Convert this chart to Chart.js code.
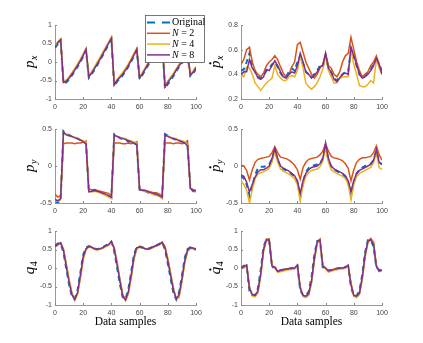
<!DOCTYPE html>
<html>
<head>
<meta charset="utf-8">
<script src="https://cdn.jsdelivr.net/npm/chart.js"></script>
<style>
  body { margin: 0; background: #fff; }
  #fig { position: relative; width: 423px; height: 343px; overflow: hidden; background: #fff; }
  #fig canvas { position: absolute; }
</style>
</head>
<body>
<div id="fig"></div>
<script>
// data samples (every second sample)
const samples = [0,2,4,6,8,10,12,14,16,18,20,22,24,26,28,30,32,34,36,38,40,42,44,46,48,50,
  52,54,56,58,60,62,64,66,68,70,72,74,76,78,80,82,84,86,88,90,92,94,96,98,100];

const seriesNames = ['Original', 'N = 2', 'N = 4', 'N = 8'];
const seriesColors = ['#0072BD', '#D95319', '#EDB120', '#7E2F8E'];

// p_x
const pxOrig = [0.38,0.48,0.58,-0.58,-0.55,-0.47,-0.36,-0.25,-0.13,0.00,0.15,0.32,-0.43,-0.33,-0.21,-0.08,0.05,0.19,0.33,0.47,0.62,-0.65,-0.53,-0.45,-0.36,-0.25,-0.13,0.01,0.16,0.31,-0.46,-0.35,-0.22,-0.09,0.04,0.17,0.29,0.42,0.55,-0.72,-0.60,-0.49,-0.38,-0.25,-0.13,-0.03,0.07,0.19,-0.38,-0.31,-0.18];
const pxN2 = [0.41,0.53,0.61,-0.54,-0.50,-0.42,-0.31,-0.20,-0.08,0.05,0.20,0.35,-0.39,-0.28,-0.16,-0.03,0.10,0.24,0.38,0.52,0.65,-0.61,-0.49,-0.40,-0.31,-0.20,-0.08,0.06,0.21,0.35,-0.42,-0.30,-0.17,-0.04,0.09,0.22,0.34,0.47,0.60,-0.66,-0.54,-0.43,-0.33,-0.20,-0.08,0.02,0.12,0.24,-0.35,-0.26,-0.14];
const pxN4 = [0.42,0.55,0.63,-0.52,-0.49,-0.40,-0.29,-0.17,-0.05,0.08,0.22,0.37,-0.37,-0.26,-0.13,0.00,0.13,0.27,0.40,0.54,0.68,-0.60,-0.47,-0.38,-0.28,-0.17,-0.05,0.09,0.24,0.38,-0.40,-0.28,-0.15,-0.02,0.11,0.24,0.36,0.49,0.62,-0.65,-0.52,-0.41,-0.30,-0.18,-0.06,0.05,0.15,0.27,-0.33,-0.24,-0.12];
const pxN8 = [0.40,0.52,0.60,-0.55,-0.52,-0.44,-0.33,-0.22,-0.10,0.03,0.18,0.34,-0.40,-0.30,-0.18,-0.05,0.08,0.22,0.36,0.50,0.64,-0.62,-0.50,-0.42,-0.33,-0.22,-0.10,0.04,0.19,0.34,-0.43,-0.32,-0.19,-0.06,0.07,0.20,0.32,0.45,0.58,-0.67,-0.55,-0.45,-0.35,-0.22,-0.10,0.00,0.10,0.22,-0.36,-0.28,-0.15];

// p_x dot
const vxOrig = [0.43,0.44,0.50,0.57,0.47,0.42,0.38,0.37,0.39,0.43,0.45,0.48,0.50,0.46,0.41,0.38,0.38,0.42,0.45,0.43,0.50,0.55,0.49,0.42,0.40,0.38,0.40,0.43,0.47,0.46,0.55,0.45,0.41,0.37,0.35,0.38,0.40,0.42,0.42,0.60,0.54,0.47,0.40,0.38,0.39,0.41,0.44,0.48,0.51,0.49,0.42];
const vxN2 = [0.48,0.52,0.60,0.62,0.50,0.43,0.40,0.38,0.41,0.47,0.50,0.52,0.55,0.52,0.46,0.41,0.38,0.40,0.46,0.50,0.64,0.66,0.58,0.50,0.45,0.40,0.37,0.40,0.45,0.48,0.57,0.47,0.45,0.40,0.38,0.42,0.50,0.55,0.57,0.70,0.60,0.50,0.43,0.38,0.40,0.42,0.47,0.50,0.55,0.48,0.40];
const vxN4 = [0.40,0.38,0.46,0.45,0.40,0.33,0.30,0.27,0.30,0.33,0.35,0.37,0.47,0.40,0.37,0.35,0.35,0.38,0.39,0.38,0.43,0.55,0.45,0.33,0.30,0.28,0.30,0.33,0.38,0.44,0.55,0.43,0.38,0.33,0.33,0.37,0.38,0.38,0.38,0.60,0.48,0.40,0.31,0.30,0.30,0.32,0.35,0.33,0.52,0.45,0.40];
const vxN8 = [0.40,0.42,0.42,0.52,0.45,0.42,0.37,0.36,0.38,0.44,0.43,0.47,0.51,0.47,0.42,0.38,0.37,0.40,0.42,0.41,0.47,0.57,0.50,0.42,0.40,0.37,0.39,0.42,0.46,0.47,0.57,0.45,0.42,0.36,0.34,0.37,0.40,0.41,0.40,0.62,0.55,0.48,0.40,0.37,0.38,0.40,0.43,0.47,0.53,0.48,0.40];

// p_y
const pyOrig = [-0.48,-0.50,-0.45,0.47,0.43,0.42,0.40,0.39,0.37,0.35,0.33,0.31,-0.34,-0.33,-0.32,-0.33,-0.36,-0.37,-0.39,-0.41,-0.43,0.43,0.41,0.38,0.36,0.36,0.33,0.32,0.30,0.30,-0.32,-0.34,-0.34,-0.36,-0.37,-0.38,-0.39,-0.41,-0.43,0.43,0.41,0.39,0.37,0.35,0.34,0.33,0.31,0.28,-0.30,-0.34,-0.34];
const pyN2 = [-0.38,-0.42,-0.40,0.30,0.31,0.31,0.31,0.30,0.31,0.31,0.32,0.34,-0.31,-0.32,-0.33,-0.33,-0.34,-0.35,-0.36,-0.37,-0.40,0.31,0.31,0.31,0.30,0.30,0.31,0.30,0.31,0.33,-0.31,-0.32,-0.33,-0.34,-0.35,-0.36,-0.36,-0.38,-0.40,0.31,0.31,0.31,0.30,0.31,0.31,0.30,0.31,0.34,-0.30,-0.32,-0.33];
const pyN4 = [-0.46,-0.48,-0.46,0.45,0.43,0.41,0.40,0.39,0.38,0.36,0.34,0.32,-0.34,-0.35,-0.34,-0.35,-0.36,-0.38,-0.40,-0.42,-0.44,0.41,0.40,0.39,0.38,0.37,0.35,0.34,0.32,0.31,-0.31,-0.33,-0.34,-0.36,-0.37,-0.39,-0.40,-0.41,-0.44,0.41,0.41,0.39,0.38,0.37,0.35,0.34,0.33,0.29,-0.31,-0.33,-0.34];
const pyN8 = [-0.45,-0.47,-0.44,0.46,0.42,0.41,0.40,0.38,0.37,0.35,0.33,0.30,-0.35,-0.34,-0.33,-0.34,-0.35,-0.37,-0.38,-0.40,-0.42,0.42,0.40,0.38,0.37,0.36,0.34,0.33,0.31,0.29,-0.32,-0.33,-0.33,-0.35,-0.36,-0.37,-0.38,-0.40,-0.42,0.42,0.40,0.38,0.37,0.36,0.34,0.33,0.31,0.27,-0.30,-0.33,-0.33];

// p_y dot
const vyOrig = [-0.13,-0.17,-0.25,-0.40,-0.27,-0.12,-0.03,-0.01,-0.01,0.00,0.02,0.10,0.22,0.08,-0.01,-0.04,-0.06,-0.08,-0.11,-0.14,-0.22,-0.42,-0.22,-0.08,-0.03,0.00,0.01,0.02,0.03,0.10,0.28,0.08,-0.01,-0.05,-0.07,-0.09,-0.11,-0.14,-0.22,-0.40,-0.22,-0.10,-0.05,-0.02,0.00,0.01,0.03,0.08,0.20,0.05,0.02];
const vyN2 = [0.01,0.00,-0.06,-0.19,-0.05,0.05,0.09,0.10,0.11,0.12,0.13,0.18,0.26,0.18,0.12,0.11,0.10,0.08,0.05,0.01,-0.05,-0.18,-0.02,0.05,0.09,0.10,0.11,0.12,0.15,0.20,0.30,0.20,0.13,0.11,0.10,0.09,0.07,0.03,-0.03,-0.20,-0.05,0.05,0.09,0.11,0.11,0.12,0.13,0.18,0.27,0.15,0.08];
const vyN4 = [-0.20,-0.25,-0.33,-0.50,-0.32,-0.17,-0.11,-0.09,-0.08,-0.06,-0.03,0.05,0.20,0.05,-0.04,-0.07,-0.09,-0.11,-0.14,-0.17,-0.25,-0.47,-0.26,-0.14,-0.09,-0.06,-0.05,-0.04,-0.01,0.06,0.25,0.05,-0.05,-0.08,-0.10,-0.12,-0.14,-0.17,-0.24,-0.46,-0.25,-0.14,-0.10,-0.08,-0.06,-0.04,-0.02,0.04,0.18,-0.02,-0.05];
const vyN8 = [-0.12,-0.14,-0.22,-0.35,-0.25,-0.15,-0.08,-0.05,-0.05,-0.03,0.00,0.10,0.24,0.10,0.00,-0.03,-0.05,-0.07,-0.10,-0.13,-0.20,-0.37,-0.20,-0.10,-0.05,-0.02,-0.01,0.00,0.03,0.10,0.31,0.10,0.00,-0.04,-0.06,-0.08,-0.10,-0.13,-0.20,-0.34,-0.20,-0.10,-0.06,-0.04,-0.02,0.00,0.02,0.08,0.22,0.05,0.03];

// q_4
const qOrig = [0.60,0.66,0.66,0.42,-0.02,-0.45,-0.77,-0.83,-0.60,-0.12,0.36,0.55,0.59,0.57,0.53,0.51,0.53,0.56,0.61,0.64,0.71,0.46,0.02,-0.43,-0.79,-0.84,-0.58,-0.12,0.36,0.57,0.58,0.56,0.53,0.52,0.55,0.59,0.62,0.65,0.70,0.50,0.12,-0.28,-0.68,-0.85,-0.66,-0.22,0.27,0.51,0.56,0.55,0.51];
const qN2 = [0.57,0.63,0.68,0.50,0.09,-0.34,-0.69,-0.86,-0.69,-0.24,0.26,0.51,0.58,0.56,0.51,0.50,0.52,0.54,0.59,0.62,0.71,0.54,0.14,-0.31,-0.72,-0.87,-0.68,-0.24,0.26,0.53,0.57,0.55,0.52,0.51,0.53,0.57,0.60,0.63,0.69,0.57,0.23,-0.16,-0.57,-0.83,-0.76,-0.34,0.16,0.46,0.54,0.53,0.49];
const qN4 = [0.56,0.62,0.67,0.52,0.12,-0.30,-0.66,-0.87,-0.72,-0.28,0.22,0.49,0.57,0.55,0.50,0.49,0.51,0.53,0.58,0.61,0.70,0.56,0.18,-0.28,-0.70,-0.88,-0.72,-0.28,0.22,0.51,0.56,0.54,0.51,0.50,0.52,0.56,0.59,0.62,0.68,0.60,0.27,-0.12,-0.53,-0.82,-0.80,-0.38,0.12,0.44,0.53,0.52,0.48];
const qN8 = [0.58,0.64,0.68,0.48,0.05,-0.38,-0.72,-0.85,-0.66,-0.20,0.30,0.52,0.58,0.56,0.52,0.50,0.52,0.55,0.60,0.63,0.72,0.52,0.10,-0.35,-0.75,-0.86,-0.65,-0.20,0.30,0.55,0.57,0.55,0.52,0.51,0.54,0.58,0.61,0.64,0.70,0.55,0.20,-0.20,-0.60,-0.84,-0.72,-0.30,0.20,0.48,0.55,0.54,0.50];

// q_4 dot
const wOrig = [0.00,0.06,0.06,-0.62,-0.73,-0.73,-0.55,-0.05,0.58,0.77,0.72,0.02,0.02,-0.08,-0.06,-0.04,-0.03,-0.02,0.00,0.01,0.06,-0.60,-0.74,-0.75,-0.64,-0.25,0.35,0.73,0.75,0.02,0.01,-0.07,-0.05,-0.03,-0.01,0.00,0.01,0.03,0.05,-0.52,-0.75,-0.75,-0.62,-0.18,0.42,0.75,0.76,0.58,0.02,-0.06,-0.04];
const wN2 = [0.02,0.04,0.07,-0.52,-0.73,-0.75,-0.64,-0.18,0.48,0.78,0.79,0.06,0.02,-0.09,-0.07,-0.05,-0.03,-0.02,-0.01,0.00,0.07,-0.52,-0.75,-0.77,-0.72,-0.38,0.22,0.69,0.78,0.07,0.00,-0.09,-0.07,-0.04,-0.02,-0.01,0.00,0.02,0.07,-0.42,-0.75,-0.77,-0.70,-0.28,0.32,0.71,0.80,0.70,0.06,-0.09,-0.06];
const wN4 = [-0.02,0.00,0.05,-0.50,-0.76,-0.78,-0.68,-0.22,0.45,0.74,0.74,0.08,0.00,-0.12,-0.10,-0.08,-0.06,-0.05,-0.04,-0.03,0.05,-0.50,-0.77,-0.80,-0.74,-0.42,0.18,0.66,0.76,0.10,-0.03,-0.11,-0.09,-0.06,-0.05,-0.03,-0.03,-0.01,0.05,-0.40,-0.77,-0.80,-0.72,-0.32,0.28,0.68,0.76,0.70,0.08,-0.10,-0.08];
const wN8 = [0.00,0.03,0.08,-0.55,-0.72,-0.74,-0.62,-0.15,0.50,0.76,0.75,0.05,0.02,-0.09,-0.07,-0.05,-0.03,-0.02,-0.01,0.00,0.08,-0.55,-0.74,-0.76,-0.70,-0.35,0.25,0.70,0.76,0.05,0.00,-0.08,-0.06,-0.03,-0.02,0.00,0.00,0.02,0.08,-0.45,-0.74,-0.76,-0.68,-0.25,0.35,0.72,0.77,0.65,0.05,-0.08,-0.05];

const xTickStep = 20;
const serif = '"Liberation Serif", "DejaVu Serif", serif';
const sans = '"Liberation Sans", Arial, sans-serif';

// plot areas in page pixels
const panels = [
  { sym: 'p', sub: 'x', dot: false, min: -1, max: 1, step: 0.5, series: [pxOrig, pxN2, pxN4, pxN8], left: 55, top: 25, legend: true },
  { sym: 'p', sub: 'x', dot: true, min: 0.2, max: 0.8, step: 0.2, series: [vxOrig, vxN2, vxN4, vxN8], left: 241, top: 25 },
  { sym: 'p', sub: 'y', dot: false, min: -0.5, max: 0.5, step: 0.5, series: [pyOrig, pyN2, pyN4, pyN8], left: 55, top: 129 },
  { sym: 'p', sub: 'y', dot: true, min: -0.5, max: 0.5, step: 0.5, series: [vyOrig, vyN2, vyN4, vyN8], left: 241, top: 129 },
  { sym: 'q', sub: '4', dot: false, min: -1, max: 1, step: 0.5, series: [qOrig, qN2, qN4, qN8], left: 55, top: 231, xlabel: true },
  { sym: 'q', sub: '4', dot: true, min: -1, max: 1, step: 0.5, series: [wOrig, wN2, wN4, wN8], left: 241, top: 231, xlabel: true }
];
const plotW = 141, plotH = 74;
const padL = 50, padT = 14, padR = 12;

// MATLAB-style tick text: 1, 0.5, 0, -0.5, -1
const tickText = v => String(+(+v).toFixed(2));

function drawYLabel(ctx, p, cx, cy) {
  ctx.save();
  ctx.translate(cx, cy);
  ctx.rotate(-Math.PI / 2);
  ctx.fillStyle = '#000';
  ctx.textBaseline = 'alphabetic';
  ctx.textAlign = 'left';
  const mainFont = 'italic 15px ' + serif;
  const subFont = (/\d/.test(p.sub) ? '' : 'italic ') + '10px ' + serif;
  ctx.font = mainFont;
  const w1 = ctx.measureText(p.sym).width;
  ctx.font = subFont;
  const w2 = ctx.measureText(p.sub).width;
  const x0 = -(w1 + w2) / 2;
  const base = 1.8;
  ctx.font = mainFont;
  ctx.fillText(p.sym, x0, base);
  ctx.font = subFont;
  ctx.fillText(p.sub, x0 + w1 + 0.5, base + 3);
  if (p.dot) {
    ctx.beginPath();
    ctx.arc(x0 + w1 * 0.62, base - 9.5, 1.15, 0, Math.PI * 2);
    ctx.fill();
  }
  ctx.restore();
}

function drawLegend(ctx, area) {
  const bx = area.left + 90.5, by = area.top - 9.5, bw = 59, bh = 47;
  ctx.save();
  ctx.fillStyle = '#fff';
  ctx.fillRect(bx, by, bw, bh);
  ctx.strokeStyle = '#555';
  ctx.lineWidth = 0.8;
  ctx.strokeRect(bx, by, bw, bh);
  const rows = [-2.5, 8.3, 19.1, 29.9];
  ctx.textBaseline = 'middle';
  ctx.fillStyle = '#000';
  seriesNames.forEach((name, i) => {
    const y = area.top + rows[i];
    ctx.beginPath();
    ctx.strokeStyle = seriesColors[i];
    ctx.lineWidth = i === 0 ? 2 : 1.5;
    ctx.setLineDash(i === 0 ? [8, 7] : []);
    ctx.moveTo(area.left + 92, y);
    ctx.lineTo(area.left + 115, y);
    ctx.stroke();
    ctx.setLineDash([]);
    let tx = area.left + 117;
    if (i === 0) {
      ctx.font = '10px ' + serif;
      ctx.fillText(name, tx, y);
    } else {
      ctx.font = 'italic 10px ' + serif;
      ctx.fillText('N', tx, y);
      tx += ctx.measureText('N').width;
      ctx.font = '10px ' + serif;
      ctx.fillText(name.slice(1), tx, y);
    }
  });
  ctx.restore();
}

const fig = document.getElementById('fig');

panels.forEach((p) => {
  const bottomH = 16;
  const cw = padL + plotW + padR;
  const ch = padT + plotH + bottomH + (p.xlabel ? 14 : 0);
  const canvas = document.createElement('canvas');
  canvas.width = cw;
  canvas.height = ch;
  canvas.style.left = (p.left - padL) + 'px';
  canvas.style.top = (p.top - padT) + 'px';
  fig.appendChild(canvas);

  const datasets = p.series.map((vals, i) => ({
    label: seriesNames[i],
    data: samples.map((x, j) => ({ x: x, y: vals[j] })),
    borderColor: seriesColors[i],
    borderWidth: i === 0 ? 2 : 1.5,
    borderDash: i === 0 ? [5, 4] : [],
    pointRadius: 0,
    tension: 0,
    fill: false,
    order: 4 - i
  }));

  const decor = {
    id: 'decor',
    afterDraw(chart) {
      const ctx = chart.ctx;
      const a = chart.chartArea;
      const xs = chart.scales.x, ys = chart.scales.y;
      // inward tick marks
      ctx.save();
      ctx.strokeStyle = '#888';
      ctx.lineWidth = 1;
      ctx.beginPath();
      xs.ticks.forEach(t => {
        const px = Math.round(xs.getPixelForValue(t.value)) + 0.5;
        ctx.moveTo(px, a.bottom);
        ctx.lineTo(px, a.bottom - 2);
      });
      ys.ticks.forEach(t => {
        const py = Math.round(ys.getPixelForValue(t.value)) + 0.5;
        ctx.moveTo(a.left, py);
        ctx.lineTo(a.left + 2, py);
      });
      ctx.stroke();
      ctx.restore();
      drawYLabel(ctx, p, a.left - 23, (a.top + a.bottom) / 2);
      if (p.xlabel) {
        ctx.save();
        ctx.fillStyle = '#000';
        ctx.font = '11.5px ' + serif;
        ctx.textAlign = 'center';
        ctx.textBaseline = 'middle';
        ctx.fillText('Data samples', (a.left + a.right) / 2, a.bottom + 17);
        ctx.restore();
      }
      if (p.legend) drawLegend(ctx, a);
    }
  };

  new Chart(canvas.getContext('2d'), {
    type: 'line',
    data: { datasets: datasets },
    options: {
      responsive: false,
      animation: false,
      devicePixelRatio: 1,
      layout: { padding: { left: 0, top: padT, right: padR, bottom: 0 } },
      plugins: { legend: { display: false }, tooltip: { enabled: false } },
      scales: {
        x: {
          type: 'linear', min: 0, max: 100,
          ticks: { stepSize: xTickStep, padding: 4, color: '#444', font: { family: sans, size: 7 }, maxRotation: 0, callback: tickText },
          grid: { drawOnChartArea: false, drawTicks: false },
          border: { color: '#999', width: 1 },
          afterFit(s) { s.height = ch - padT - plotH; }
        },
        y: {
          min: p.min, max: p.max,
          ticks: { stepSize: p.step, padding: 3, color: '#444', font: { family: sans, size: 7 }, callback: tickText },
          grid: { drawOnChartArea: false, drawTicks: false },
          border: { color: '#999', width: 1 },
          afterFit(s) { s.width = padL; }
        }
      }
    },
    plugins: [decor]
  });
});
</script>
</body>
</html>
